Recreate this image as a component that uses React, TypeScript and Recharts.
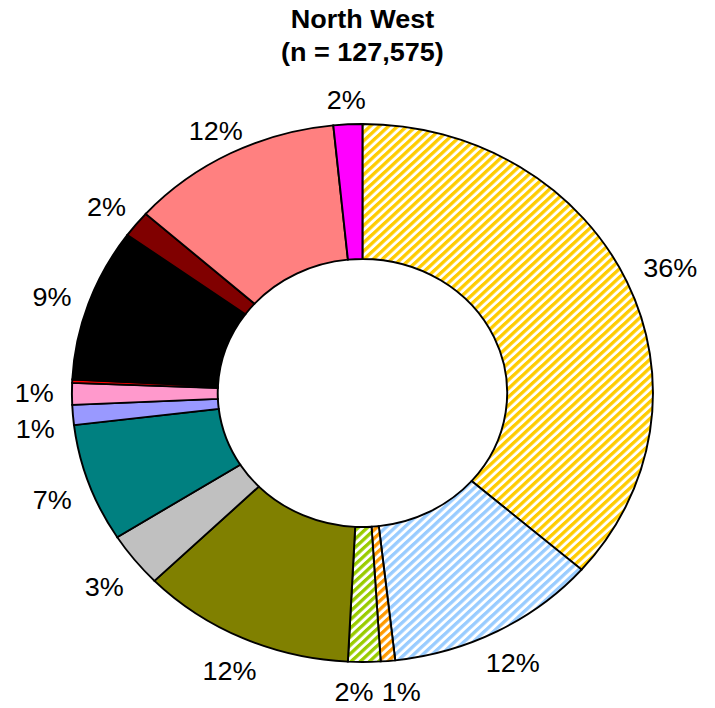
import React from 'react';
import { PieChart, Pie, Cell } from 'recharts';

// share of each group, clockwise from 12 o'clock
const categories = [
  'Group A', 'Group B', 'Group C', 'Group D', 'Group E', 'Group F', 'Group G',
  'Group H', 'Group I', 'Group J', 'Group K', 'Group L', 'Group M', 'Group N',
];
const shares = [36.4, 11.8, 0.8, 1.8, 11.9, 3.3, 7.1, 1.2, 1.3, 0.2, 9.2, 1.6, 11.8, 1.6];
const titleLines = ['North West', '(n = 127,575)'];

const fills = [
  'url(#hatchGold)', 'url(#hatchSky)', 'url(#hatchOrange)', 'url(#hatchLime)',
  '#808000', '#C0C0C0', '#008080', '#9999FF', '#FF99CC', '#FF0000',
  '#000000', '#800000', '#FF8080', '#FF00FF',
];

// the original is a little wider than tall, so the whole chart is stretched
const STRETCH = 1.08;
const W = 662;
const H = 708;
const CX = 335.6;
const CY = 393;
const OUTER = 269;
const INNER = 134;
const GAP = 18;
const FONT = '"Liberation Sans", Arial, sans-serif';
const FS = 25;

const data = categories.map((name, i) => ({ name, value: shares[i] }));

const labelText = (v: number) => `${Math.round(v)}%`;
const textW = (s: string) =>
  s.split('').reduce((w, ch) => w + (ch === '%' ? 0.889 : 0.556), 0) * FS - 0.1 * FS;

// theta: degrees clockwise from the top
function place(theta: number, text: string) {
  const t = (theta * Math.PI) / 180;
  const s = Math.sin(t);
  const c = Math.cos(t);
  const hw = textW(text) / 2;
  const hh = 11;
  const k = Math.min(
    Math.abs(s) > 1e-6 ? hw / Math.abs(s) : Infinity,
    Math.abs(c) > 1e-6 ? hh / Math.abs(c) : Infinity,
  );
  const d = OUTER + GAP + k;
  return { x: s * d, y: -c * d + 5, hw, hh, c };
}

// small pass to keep neighbouring labels from sitting on each other
const nudges: { dx: number; dy: number }[] = (() => {
  const total = shares.reduce((a, b) => a + b, 0);
  let acc = 0;
  const items = shares.map((v) => {
    const mid = ((acc + v / 2) / total) * 360;
    acc += v;
    return { show: v >= 0.5, ...place(mid, labelText(v)) };
  });
  const out = shares.map(() => ({ dx: 0, dy: 0 }));
  const shown = items.map((it, i) => i).filter((i) => items[i].show);
  for (let n = 0; n < shown.length; n++) {
    const a = shown[n];
    const b = shown[(n + 1) % shown.length];
    const A = items[a];
    const B = items[b];
    const ax = A.x + out[a].dx, ay = A.y + out[a].dy;
    const bx = B.x + out[b].dx, by = B.y + out[b].dy;
    const needX = A.hw + B.hw + 10 - Math.abs(ax - bx);
    const needY = A.hh + B.hh + 14 - Math.abs(ay - by);
    if (needX > 0 && needY > 0) {
      if (Math.abs(A.c) > 0.7) {
        const sgn = ax < bx ? -1 : 1;
        out[a].dx += (sgn * needX) / 2;
        out[b].dx -= (sgn * needX) / 2;
      } else {
        const sgn = ay < by ? -1 : 1;
        out[a].dy += (sgn * needY) / 2;
        out[b].dy -= (sgn * needY) / 2;
      }
    }
  }
  return out;
})();

const renderLabel = (props: any) => {
  const { cx, cy, midAngle, value, index } = props;
  if (value < 0.5) return null;
  const text = labelText(value);
  const p = place(90 - midAngle, text);
  const nd = nudges[index] || { dx: 0, dy: 0 };
  // keep the descent of the lowest labels inside the picture
  const baseline = Math.min(cy + p.y + nd.dy + 9, H - 7);
  return (
    <text
      x={cx + p.x + nd.dx}
      y={baseline}
      textAnchor="middle"
      fontFamily={FONT}
      fontSize={FS}
      fill="#000"
    >
      {text}
    </text>
  );
};

const Hatch = ({ id, color }: { id: string; color: string }) => (
  <pattern id={id} patternUnits="userSpaceOnUse" width="6" height="6" patternTransform="rotate(45)">
    <rect width="6" height="6" fill="#fff" />
    <rect width="3.2" height="6" fill={color} />
  </pattern>
);

export default function App() {
  return (
    <div style={{ position: 'absolute', left: 0, top: 0, width: 715, height: 708, background: '#fff', overflow: 'hidden' }}>
      <svg width="0" height="0" style={{ position: 'absolute' }}>
        <defs>
          <Hatch id="hatchGold" color="#FFCC00" />
          <Hatch id="hatchSky" color="#99CCFF" />
          <Hatch id="hatchOrange" color="#FF9900" />
          <Hatch id="hatchLime" color="#99CC00" />
        </defs>
      </svg>
      <div
        style={{
          position: 'absolute',
          left: 0,
          top: 0,
          width: W,
          height: H,
          transform: `scaleX(${STRETCH})`,
          transformOrigin: '0 0',
        }}
      >
        <div
          style={{
            position: 'absolute',
            left: CX - 200,
            top: 3,
            width: 400,
            textAlign: 'center',
            fontFamily: FONT,
            fontSize: FS,
            fontWeight: 'bold',
            lineHeight: '33px',
          }}
        >
          {titleLines.map((t) => (
            <div key={t}>{t}</div>
          ))}
        </div>
        <PieChart width={W} height={H} margin={{ top: 0, right: 0, bottom: 0, left: 0 }}>
          <Pie
            data={data}
            dataKey="value"
            nameKey="name"
            cx={CX}
            cy={CY}
            innerRadius={INNER}
            outerRadius={OUTER}
            startAngle={90}
            endAngle={-270}
            stroke="#000"
            strokeWidth={1.8}
            labelLine={false}
            label={renderLabel}
            isAnimationActive={false}
          >
            {data.map((d, i) => (
              <Cell key={d.name} fill={fills[i]} />
            ))}
          </Pie>
        </PieChart>
      </div>
    </div>
  );
}
